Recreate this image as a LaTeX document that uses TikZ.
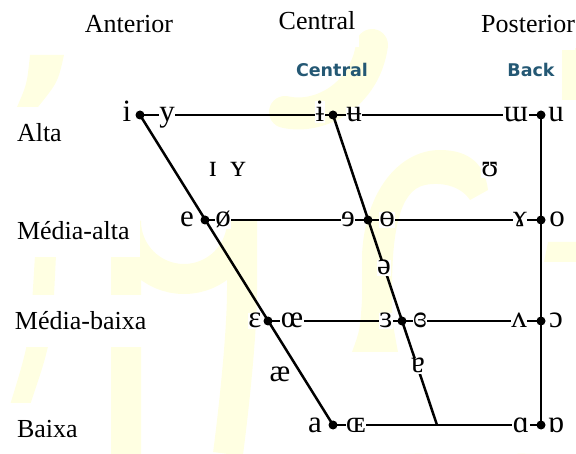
\documentclass[tikz,border=0pt]{standalone}
\usepackage{fontspec}
\setmainfont{Liberation Serif}
\newfontfamily\headfont{DejaVu Sans}

\definecolor{wmyellow}{HTML}{FFFFE2}
\definecolor{headblue}{HTML}{245874}

\tikzset{
  vowel/.style={font=\fontsize{31}{31}\selectfont, anchor=base, yshift=-7pt, inner sep=0.6pt, fill=white},
  rowlabel/.style={font=\fontsize{26}{26}\selectfont, anchor=text, fill=white, inner xsep=10pt, inner ysep=17pt},
  collabel/.style={font=\fontsize{26}{26}\selectfont, anchor=base, fill=white, inner xsep=4pt, inner ysep=17pt},
  englabel/.style={font=\headfont\bfseries\fontsize{17.5}{17.5}\selectfont, text=headblue, anchor=base, inner sep=0pt},
  chartline/.style={line width=2.5pt},
}

\begin{document}
\begin{tikzpicture}[x=1pt, y=-1pt]
% Parameters
\def\dotradius{4.5}

\useasboundingbox (0,0) rectangle (576,454);

% Background watermark (pale yellow)
\fill[wmyellow] (30,55) -- (64,55) .. controls (58,82) .. (38,107) -- (17,107) .. controls (27,84) .. (30,55) -- cycle;
\fill[wmyellow] (35,255) -- (56,255) .. controls (52,340) .. (30,405) -- (10,405) .. controls (30,340) .. (35,255) -- cycle;
\draw[wmyellow, line width=30pt] (126,454) -- (126,221) arc[start angle=180, end angle=0, radius=58]
  -- (242,290) .. controls (242,330) and (235,400) .. (228,454);
\draw[wmyellow, line width=32pt, line cap=round] (285,112) .. controls (320,120) and (365,95) .. (372,45);
\fill[wmyellow] (352,352) .. controls (360,330) .. (362,300) -- (362,255) .. controls (365,190) and (400,150) .. (440,150)
  .. controls (470,150) and (485,165) .. (488,190) -- (470,200) .. controls (460,185) and (440,182) .. (425,185)
  .. controls (400,190) and (392,230) .. (392,290) .. controls (392,320) .. (398,352) -- cycle;
\draw[wmyellow, line width=35pt] (405,454) arc[start angle=180, end angle=0, radius=65];
\fill[wmyellow] (562,48) rectangle (576,100);
\fill[wmyellow] (548,242) -- (576,242) -- (576,262) -- (544,262) -- cycle;

% Column and row labels
\node[collabel] (anterior) at (129,33) {Anterior};
\node[collabel] (central) at (317,30) {Central};
\node[collabel, anchor=base west, inner xsep=0pt] (posterior) at (481,33) {Posterior};
\node[englabel] (centralEn) at (332,77) {Central};
\node[englabel] (backEn) at (531,77) {Back};

\node[rowlabel] (alta) at (17,142) {Alta};
\node[rowlabel] (mediaalta) at (17,240) {Média-alta};
\node[rowlabel] (mediabaixa) at (15,330) {Média-baixa};
\node[rowlabel] (baixa) at (17,437) {Baixa};

% Corners of the chart
\coordinate (fHi) at (140,115);
\coordinate (cHi) at (333,115);
\coordinate (bHi) at (541,115);
\coordinate (fMa) at (205,220);
\coordinate (cMa) at (368,220);
\coordinate (bMa) at (541,220);
\coordinate (fMb) at (268,321);
\coordinate (cMb) at (402,321);
\coordinate (bMb) at (541,321);
\coordinate (fLo) at (333,425);
\coordinate (cLo) at (437,425);
\coordinate (bLo) at (541,425);

% Draw the chart lines
\draw[chartline] (fHi) -- (bHi);
\draw[chartline] (fMa) -- (bMa);
\draw[chartline] (fMb) -- (bMb);
\draw[chartline] (fLo) -- (bLo);
\draw[chartline] (fHi) -- (fLo);
\draw[chartline] (cHi) -- (cLo);
\draw[chartline] (bHi) -- (bLo);

% Vowel symbols
\foreach \sym/\name/\x/\y in {
    i/i/127/115, y/y/167/115, ɨ/ibar/320/115, ʉ/ubar/354/115, ɯ/mturn/516/115, u/u/556/115,
    e/e/187/220, ø/oslash/223/220, ɘ/erev/348/220, ɵ/obar/387/220, ɤ/gamma/520/220, o/o/557/220,
    ɛ/eps/255/321, œ/oe/292/321, ɜ/reveps/386/321, ɞ/closedeps/420/321, ʌ/vturn/519/321, ɔ/oopen/556/321,
    a/a/315/425, ɶ/OE/356/425, ɑ/alpha/521/425, ɒ/alphaturn/556/425,
    ɪ/smallI/213/170, ʏ/smallY/238/170, ʊ/upsilon/490/170,
    ə/schwa/384/268, ɐ/aturn/418/366, æ/ash/280/375} {
  \node[vowel] (\name) at (\x,\y) {\sym};
}

% Draw the dots
\foreach \p in {fHi,cHi,bHi,fMa,cMa,bMa,fMb,cMb,bMb,fLo,bLo} {
  \fill (\p) circle (\dotradius);
}
\end{tikzpicture}
\end{document}
